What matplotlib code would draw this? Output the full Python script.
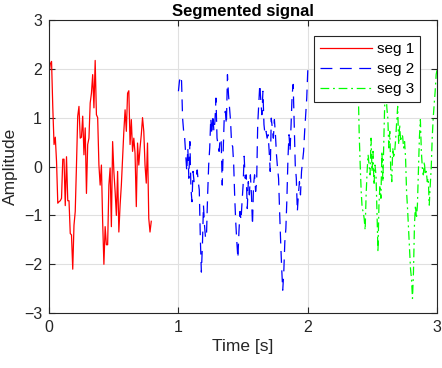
import numpy as np
import matplotlib
matplotlib.use("Agg")
import matplotlib.pyplot as plt

plt.rcParams['font.family'] = ['Liberation Sans', 'DejaVu Sans']

# values
seg1 = [1.9, 2.1, 2.15, 1.2, 0.45, 0.6, 0.1, -0.75, -0.72, -0.7,
        -0.65, 0.15, 0.15, -0.8, 0.2, -0.7, -0.7, -1.37, -1.4, -2.1,
        -1.2, -0.92, 0.03, 1.03, 1.23, 0.58, 0.6, 1.03, 0.24, 0.79,
        -0.55, 0.45, 0.58, 1.3, 1.5, 1.88, 1.2, 2.17, 1.06, 1.0,
        0.03, -0.38, 0.03, -1.13, -2.0, -1.23, -1.6, -1.6, -0.38, -0.03,
        -1.23, 0.51, -0.1, -0.51, -1.0, -0.1, -1.34, -0.79, -0.38, 0.17,
        0.72, 1.16, 0.72, 1.5, 1.55, 0.45, 0.96, 0.31, 0.58, 0.27,
        -0.82, 0.48, 0.03, 0.38, 0.65, 1.0, 0.72, 0.03, -0.34, 0.48,
        -1.06, -1.34, -1.12]

seg2 = [1.54, 1.75, 1.85, 1.75, 0.99, 0.72, 0.58, 0.24, -0.1, 0.38,
        -0.24, 0.51, -0.45, -0.72, -0.1, -0.31, -0.27, -0.24, -0.07, -0.31,
        -0.48, -1.47, -2.16, -1.61, -0.79, -1.2, -1.47, -1.34, -0.58, 0.03,
        0.38, 0.99, 0.65, 1.06, 0.72, 0.92, 1.4, 0.58, 0.45, 0.31,
        0.58, 0.51, -0.38, 0.38, 1.06, 1.13, 0.86, 1.88, 1.47, 1.2,
        0.92, 0.45, 0.41, 0.03, -0.65, -1.16, -1.54, -1.88, -1.34, -0.92,
        -1.1, -0.72, -0.38, 0.21, -0.24, -0.17, -0.86, -0.31, -0.58, -0.17,
        -0.58, -1.2, -0.38, -0.17, -0.51, -0.31, 0.86, 1.27, 1.68, 1.34,
        1.06, 1.54, 0.86, 0.65, 0.72, 0.58, 0.65, 0.31, -0.1, 0.99,
        0.79, 0.58, 0.96, 0.65, 0.24, -0.03, -0.24, -0.92, -1.54, -2.09,
        -2.53, -2.16, -1.54, -1.27, -0.65, 0.17, 0.65, 0.31, 0.86, 1.47,
        1.68, 0.86, 0.03, -0.24, -0.92, -0.58, -0.31, -0.58, -0.1, 0.1,
        0.31, 0.72, 1.06, 1.4, 1.97]

seg3 = [1.6, 0.65, 0.03, -0.51, -0.86, -0.92, -1.06, -1.3, -0.58, -0.1,
        0.24, 0.03, -0.17, 0.58, -0.1, 0.31, -0.38, 0.03, -0.17, -0.92,
        -1.75, -0.79, -0.38, -0.65, 0.31, -0.31, 0.58, 1.4, 1.68, 1.2,
        0.99, 0.38, 0.72, -0.1, -0.31, 0.38, 0.17, 0.31, 0.58, 0.92,
        1.23, 0.45, 0.86, 0.51, 0.65, 0.62, 0.38, 0.51, 0.17, -0.51,
        -0.86, -1.27, -1.68, -2.09, -2.3, -2.7, -2.16, -1.2, -0.79, -1.06,
        -0.79, -0.1, 0.58, 0.96, 0.31, -0.03, -0.17, 0.1, -0.17, -0.1,
        -0.31, -0.24, -0.79, -0.38, -0.03, 0.58, 0.99, 1.27, 1.54, 1.88,
        1.99]

t1 = np.linspace(0, 0.79, len(seg1))
t2 = np.linspace(1, 2, len(seg2))
t3 = np.linspace(2.39, 3, len(seg3))

fig = plt.figure(figsize=(4.42, 3.68), dpi=100)
ax = fig.add_axes([0.111, 0.149, 0.878, 0.797])

ax.plot(t1, seg1, color=(1, 0, 0), lw=0.9, label='seg 1')
ax.plot(t2, seg2, color=(0, 0, 1), lw=0.9, dashes=(9.5, 6), label='seg 2')
ax.plot(t3, seg3, color=(0, 1, 0), lw=0.9, dashes=(7, 3, 1.5, 3), label='seg 3')

ax.set_xlim(0, 3)
ax.set_ylim(-3, 3)
ax.set_xticks([0, 1, 2, 3])
ax.set_yticks([-3, -2, -1, 0, 1, 2, 3])
ax.grid(True, color='#e0e0e0', lw=0.8)
ax.set_axisbelow(True)
ax.tick_params(direction='in', length=4, labelsize=11.5, colors='#262626',
               top=True, right=True, labeltop=False, labelright=False, pad=5)
for s in ax.spines.values():
    s.set_color('#262626')
    s.set_linewidth(0.8)

ax.set_xlabel('Time [s]', fontsize=12.5, color='#262626', labelpad=3)
ax.set_ylabel('Amplitude', fontsize=12.5, color='#262626', labelpad=4)
ax.set_title('Segmented signal', fontsize=12, fontweight='bold', pad=3)

leg = ax.legend(loc='upper right', bbox_to_anchor=(0.956, 0.945),
                fontsize=11, fancybox=False, framealpha=1,
                edgecolor='#262626', handlelength=3.4, borderaxespad=0,
                labelspacing=0.4, borderpad=0.4, handletextpad=0.3)
leg.get_frame().set_linewidth(0.8)

fig.savefig('out.png', dpi=100)
